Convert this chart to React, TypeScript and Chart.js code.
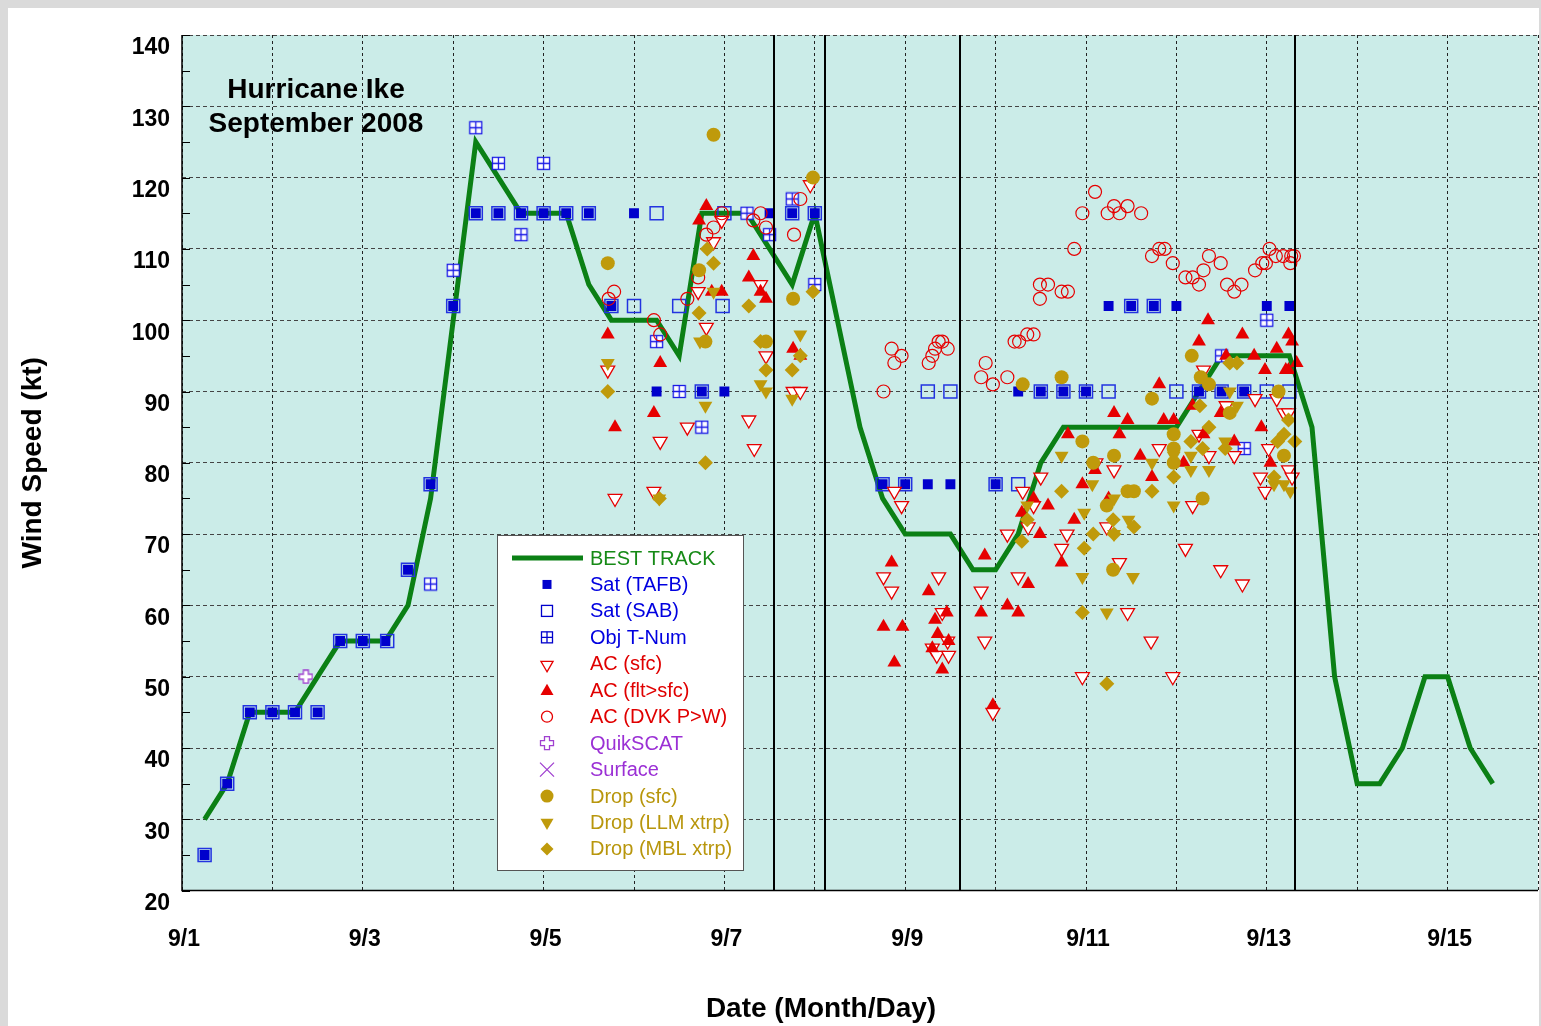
import React, { useEffect, useRef } from 'react';
import { Chart, registerables } from 'chart.js';

Chart.register(...registerables);

type P = [number, number];

const FONT = '"Liberation Sans", Arial, Helvetica, sans-serif';

// ---------------- data ----------------
const xTickDays = [1, 3, 5, 7, 9, 11, 13, 15];
const xTickLabels = ['9/1', '9/3', '9/5', '9/7', '9/9', '9/11', '9/13', '9/15'];
const titleLines = ['Hurricane Ike', 'September 2008'];
const xAxisTitle = 'Date (Month/Day)';
const yAxisTitle = 'Wind Speed (kt)';
const landfallDays = [7.55, 8.11, 9.61, 13.31];

const bestTrack: P[] = [
  [1.25, 30], [1.5, 35], [1.75, 45], [2, 45], [2.25, 45], [2.5, 50], [2.75, 55], [3, 55], [3.25, 55],
  [3.5, 60], [3.75, 75], [4, 100], [4.25, 125], [4.5, 120], [4.75, 115], [5, 115], [5.25, 115],
  [5.5, 105], [5.75, 100], [6, 100], [6.25, 100], [6.5, 95], [6.75, 115], [7, 115], [7.25, 115],
  [7.5, 110], [7.75, 105], [8, 115], [8.25, 100], [8.5, 85], [8.75, 75], [9, 70], [9.25, 70],
  [9.5, 70], [9.75, 65], [10, 65], [10.25, 70], [10.5, 80], [10.75, 85], [11, 85], [11.25, 85],
  [11.5, 85], [11.75, 85], [12, 85], [12.25, 90], [12.5, 95], [12.75, 95], [13, 95], [13.25, 95],
  [13.5, 85], [13.75, 50], [14, 35], [14.25, 35], [14.5, 40], [14.75, 50], [15, 50], [15.25, 40], [15.5, 35],
];

const satTafb: P[] = [
  [1.25, 25], [1.5, 35], [1.75, 45], [2, 45], [2.25, 45], [2.5, 45], [2.75, 55], [3, 55], [3.25, 55],
  [3.5, 65], [3.75, 77], [4, 102], [4.25, 115], [4.5, 115], [4.75, 115], [5, 115], [5.25, 115],
  [5.5, 115], [5.75, 102], [6, 115], [6.25, 90], [6.75, 90], [7, 90], [7.5, 115], [7.75, 115],
  [8, 115], [8.75, 77], [9, 77], [9.25, 77], [9.5, 77], [10, 77], [10.25, 90], [10.5, 90],
  [10.75, 90], [11, 90], [11.25, 102], [11.5, 102], [11.75, 102], [12, 102], [12.25, 90],
  [12.5, 90], [12.75, 90], [13, 102], [13.25, 102],
];

const satSab: P[] = [
  [1.25, 25], [1.5, 35], [1.75, 45], [2, 45], [2.25, 45], [2.5, 45], [2.75, 55], [3, 55], [3.27, 55],
  [3.5, 65], [3.75, 77], [4, 102], [4.25, 115], [4.5, 115], [4.75, 115], [5, 115], [5.25, 115],
  [5.5, 115], [5.75, 102], [6, 102], [6.25, 115], [6.5, 102], [6.75, 90], [6.98, 102], [7, 115],
  [7.75, 115], [8, 115], [8.75, 77], [9, 77], [9.25, 90], [9.5, 90], [10, 77], [10.25, 77],
  [10.5, 90], [10.75, 90], [11, 90], [11.25, 90], [11.5, 102], [11.75, 102], [12, 90], [12.25, 90],
  [12.5, 90], [12.75, 90], [13, 90], [13.25, 90],
];

const objTNum: P[] = [
  [3.75, 63], [4, 107], [4.25, 127], [4.5, 122], [4.75, 112], [5, 122], [6.25, 97], [6.5, 90],
  [6.75, 85], [7.25, 115], [7.5, 112], [7.75, 117], [8, 105], [12.5, 95], [12.75, 82], [13, 100],
];

const acSfc: P[] = [
  [7.95, 119], [6.97, 114], [6.88, 111], [6.71, 104], [7.40, 105], [6.80, 99], [5.71, 93], [7.46, 95],
  [7.76, 90], [7.84, 90], [7.27, 86], [6.59, 85], [6.29, 83], [7.33, 82], [6.22, 76], [5.79, 75],
  [8.88, 76], [8.96, 74], [10.50, 78], [10.30, 76], [10.36, 71], [10.42, 74],
  [8.76, 64], [8.85, 62], [9.37, 64], [9.41, 59], [9.47, 55], [9.30, 54], [9.35, 53], [9.48, 53],
  [9.84, 62], [9.88, 55], [10.25, 64], [9.97, 45], [10.13, 70],
  [11.31, 79], [11.81, 82], [11.11, 80], [10.73, 68], [10.79, 70], [11.23, 71], [11.37, 66],
  [11.46, 59], [11.72, 55], [10.96, 50],
  [12.30, 93], [12.87, 89], [12.55, 88], [13.11, 89], [12.25, 84], [12.36, 81], [12.64, 81],
  [13.02, 82], [13.19, 87], [13.24, 87], [12.93, 78], [12.98, 76], [13.24, 79], [13.28, 78],
  [12.10, 68], [12.49, 65], [12.73, 63], [11.96, 50], [12.18, 74],
];

const acFlt: P[] = [
  [6.80, 116], [6.72, 114], [7.32, 109], [7.27, 106], [7.40, 104], [7.46, 103], [6.97, 104], [6.86, 104],
  [5.71, 98], [6.29, 94], [6.22, 87], [5.79, 85], [7.76, 96], [7.84, 95],
  [8.85, 66], [9.26, 62], [8.76, 57], [8.97, 57], [9.33, 58], [9.46, 59], [9.36, 56], [9.48, 55],
  [9.30, 54], [8.88, 52], [9.41, 51], [9.88, 67], [9.84, 59], [10.13, 60], [10.25, 59], [10.36, 63],
  [10.49, 70], [9.97, 46], [10.58, 74], [10.42, 75], [10.29, 73],
  [12.35, 100], [11.31, 87], [11.46, 86], [11.37, 84], [10.80, 84], [11.60, 81], [11.73, 78],
  [11.10, 79], [10.96, 77], [11.81, 91], [11.25, 75], [10.87, 72], [10.73, 66],
  [12.73, 98], [12.25, 97], [12.55, 95], [12.86, 95], [13.11, 96], [13.24, 98], [13.28, 97],
  [12.98, 93], [13.21, 93], [13.24, 93], [12.18, 88], [12.49, 87], [11.86, 86], [11.97, 86],
  [12.30, 84], [12.94, 85], [12.64, 83], [13.04, 80], [12.08, 80], [13.33, 94],
];

const acDvk: P[] = [
  [7.84, 117], [6.97, 115], [6.88, 113], [6.80, 112], [7.40, 115], [7.32, 114], [7.46, 113],
  [7.77, 112], [6.71, 106], [6.59, 103], [5.78, 104], [5.72, 103], [6.22, 100], [6.29, 98],
  [8.85, 96], [8.96, 95], [8.88, 94], [9.37, 97], [9.41, 97], [9.33, 96], [9.47, 96], [9.30, 95],
  [9.26, 94], [8.76, 90], [9.89, 94], [9.84, 92], [9.97, 91], [10.13, 92], [10.21, 97], [10.26, 97],
  [10.35, 98], [10.42, 98],
  [11.10, 118], [10.96, 115], [11.24, 115], [11.31, 116], [11.37, 115], [11.46, 116], [11.61, 115],
  [10.87, 110], [11.73, 109], [11.81, 110], [11.87, 110], [11.96, 108], [12.10, 106], [12.18, 106],
  [12.25, 105], [12.30, 107], [12.36, 109], [12.49, 108], [12.56, 105], [12.64, 104], [12.72, 105],
  [12.87, 107], [12.95, 108], [12.99, 108], [13.03, 110], [13.10, 109], [13.18, 109], [13.26, 108],
  [13.27, 109], [13.30, 109],
  [10.49, 105], [10.58, 105], [10.49, 103], [10.73, 104], [10.80, 104],
];

const quikScat: P[] = [[2.37, 50]];
const surfaceObs: P[] = [];

const dropSfc: P[] = [
  [6.88, 126], [7.98, 120], [6.72, 107], [5.71, 108], [7.76, 103], [6.79, 97], [7.46, 97],
  [10.30, 91], [10.73, 92], [11.73, 89], [10.96, 83], [11.31, 81], [11.08, 80], [11.46, 76],
  [11.53, 76], [11.23, 74], [11.30, 65], [12.17, 95], [12.27, 92], [12.36, 91], [12.59, 87],
  [13.13, 90], [11.97, 84], [11.97, 82], [11.97, 80], [13.19, 81], [12.29, 75],
];

const dropLlm: P[] = [
  [6.88, 104], [5.71, 94], [6.79, 88], [7.84, 98], [7.40, 91], [7.46, 90], [7.75, 89], [6.73, 97],
  [6.28, 75], [10.35, 74], [10.73, 81], [11.07, 77], [11.31, 75], [11.73, 80], [10.98, 73],
  [11.47, 72], [11.31, 70], [10.96, 64], [11.52, 64], [11.23, 59], [12.59, 90], [12.67, 88],
  [12.16, 81], [12.54, 83], [12.36, 79], [12.16, 79], [13.19, 77], [13.26, 76], [13.08, 77],
  [11.97, 81], [11.97, 74],
];

const dropMbl: P[] = [
  [6.81, 110], [6.88, 108], [6.72, 101], [7.27, 102], [7.98, 104], [5.71, 90], [7.40, 97],
  [7.46, 93], [7.75, 93], [7.84, 95], [6.79, 80], [6.28, 75], [10.29, 69], [10.35, 72],
  [10.73, 76], [11.73, 76], [11.08, 70], [10.98, 68], [11.30, 72], [11.31, 70], [11.53, 71],
  [10.96, 59], [11.23, 49], [12.59, 94], [12.67, 94], [12.26, 88], [12.36, 85], [12.16, 83],
  [12.29, 82], [12.54, 82], [13.19, 84], [13.24, 86], [11.97, 78], [13.12, 83], [13.08, 78], [13.31, 83],
];

// ---------------- styles ----------------
const GREEN = '#0b8015';
const BLUE = '#0000cc';
const SAB_BLUE = '#2233e0';
const RED = '#e60000';
const PURPLE = '#a040d0';
const GOLD = '#bf9a0b';
const PLOT_BG = '#cbece8';

const legendItems = [
  { label: 'BEST TRACK', color: '#168a16', kind: 'line' },
  { label: 'Sat (TAFB)', color: '#0000e0', kind: 'tafb' },
  { label: 'Sat (SAB)', color: '#0000e0', kind: 'sab' },
  { label: 'Obj T-Num', color: '#0000e0', kind: 'obj' },
  { label: 'AC (sfc)', color: '#e00000', kind: 'acsfc' },
  { label: 'AC (flt>sfc)', color: '#e00000', kind: 'flt' },
  { label: 'AC (DVK P>W)', color: '#e00000', kind: 'dvk' },
  { label: 'QuikSCAT', color: '#9b30d5', kind: 'quik' },
  { label: 'Surface', color: '#9b30d5', kind: 'surf' },
  { label: 'Drop (sfc)', color: '#b8960c', kind: 'dsfc' },
  { label: 'Drop (LLM xtrp)', color: '#b8960c', kind: 'llm' },
  { label: 'Drop (MBL xtrp)', color: '#b8960c', kind: 'mbl' },
];

const toXY = (arr: P[]) => arr.map(([x, y]) => ({ x, y }));

function makeObjIcon(): HTMLCanvasElement {
  const c = document.createElement('canvas');
  c.width = 15;
  c.height = 15;
  const g = c.getContext('2d')!;
  g.fillStyle = '#ffffff';
  g.fillRect(1, 1, 13, 13);
  g.strokeStyle = '#1a1ae6';
  g.lineWidth = 1.3;
  g.strokeRect(1.5, 1.5, 12, 12);
  g.beginPath();
  g.moveTo(7.5, 1.5);
  g.lineTo(7.5, 13.5);
  g.moveTo(1.5, 7.5);
  g.lineTo(13.5, 7.5);
  g.stroke();
  return c;
}

function plusPath(g: CanvasRenderingContext2D, c: number, a: number, e: number) {
  const pts = [
    [c - a, c - e], [c + a, c - e], [c + a, c - a], [c + e, c - a], [c + e, c + a], [c + a, c + a],
    [c + a, c + e], [c - a, c + e], [c - a, c + a], [c - e, c + a], [c - e, c - a], [c - a, c - a],
  ];
  g.beginPath();
  pts.forEach(([px, py], i) => (i ? g.lineTo(px, py) : g.moveTo(px, py)));
  g.closePath();
}

function makePlusIcon(): HTMLCanvasElement {
  const c = document.createElement('canvas');
  c.width = 15;
  c.height = 15;
  const g = c.getContext('2d')!;
  plusPath(g, 7.5, 2.5, 6.5);
  g.fillStyle = '#ffffff';
  g.fill();
  g.strokeStyle = PURPLE;
  g.lineWidth = 1.3;
  g.stroke();
  return c;
}

function tri(ctx: CanvasRenderingContext2D, x: number, y: number, r: number, down: boolean) {
  const s = down ? -1 : 1;
  ctx.beginPath();
  ctx.moveTo(x, y - s * r);
  ctx.lineTo(x + 0.866 * r, y + s * r * 0.5);
  ctx.lineTo(x - 0.866 * r, y + s * r * 0.5);
  ctx.closePath();
}

function drawLegendSymbol(ctx: CanvasRenderingContext2D, kind: string, x: number, y: number) {
  ctx.save();
  ctx.lineWidth = 1.3;
  switch (kind) {
    case 'line':
      ctx.strokeStyle = GREEN;
      ctx.lineWidth = 5;
      ctx.beginPath();
      ctx.moveTo(x - 35, y);
      ctx.lineTo(x + 36, y);
      ctx.stroke();
      break;
    case 'tafb':
      ctx.fillStyle = BLUE;
      ctx.fillRect(x - 4.5, y - 4.5, 9, 9);
      break;
    case 'sab':
      ctx.strokeStyle = BLUE;
      ctx.strokeRect(x - 5.5, y - 5.5, 11, 11);
      break;
    case 'obj':
      ctx.strokeStyle = BLUE;
      ctx.strokeRect(x - 5.5, y - 5.5, 11, 11);
      ctx.beginPath();
      ctx.moveTo(x, y - 5.5);
      ctx.lineTo(x, y + 5.5);
      ctx.moveTo(x - 5.5, y);
      ctx.lineTo(x + 5.5, y);
      ctx.stroke();
      break;
    case 'acsfc':
      tri(ctx, x, y + 1, 7, true);
      ctx.fillStyle = '#fff';
      ctx.fill();
      ctx.strokeStyle = RED;
      ctx.stroke();
      break;
    case 'flt':
      tri(ctx, x, y + 1, 7.5, false);
      ctx.fillStyle = RED;
      ctx.fill();
      break;
    case 'dvk':
      ctx.beginPath();
      ctx.arc(x, y, 5.5, 0, Math.PI * 2);
      ctx.strokeStyle = RED;
      ctx.stroke();
      break;
    case 'quik':
      ctx.translate(x - 7.5, y - 7.5);
      plusPath(ctx, 7.5, 2.5, 6.5);
      ctx.fillStyle = '#fff';
      ctx.fill();
      ctx.strokeStyle = PURPLE;
      ctx.stroke();
      break;
    case 'surf':
      ctx.strokeStyle = PURPLE;
      ctx.beginPath();
      ctx.moveTo(x - 7, y - 7);
      ctx.lineTo(x + 7, y + 7);
      ctx.moveTo(x + 7, y - 7);
      ctx.lineTo(x - 7, y + 7);
      ctx.stroke();
      break;
    case 'dsfc':
      ctx.beginPath();
      ctx.arc(x, y, 6.5, 0, Math.PI * 2);
      ctx.fillStyle = GOLD;
      ctx.fill();
      break;
    case 'llm':
      tri(ctx, x, y, 7.5, true);
      ctx.fillStyle = GOLD;
      ctx.fill();
      break;
    case 'mbl':
      ctx.beginPath();
      ctx.moveTo(x - 6.5, y);
      ctx.lineTo(x, y - 6.5);
      ctx.lineTo(x + 6.5, y);
      ctx.lineTo(x, y + 6.5);
      ctx.closePath();
      ctx.fillStyle = GOLD;
      ctx.fill();
      break;
  }
  ctx.restore();
}

const decorPlugin = {
  id: 'ikeDecor',
  beforeDraw(chart: any) {
    const { ctx, chartArea: a, width, height } = chart;
    ctx.save();
    ctx.fillStyle = '#ffffff';
    ctx.fillRect(0, 0, width, height);
    ctx.fillStyle = PLOT_BG;
    ctx.fillRect(a.left, a.top, a.right - a.left, a.bottom - a.top);
    ctx.fillStyle = '#000';
    ctx.font = `bold 28px ${FONT}`;
    ctx.textAlign = 'center';
    ctx.textBaseline = 'middle';
    ctx.fillText(titleLines[0], a.left + 134, a.top + 55);
    ctx.fillText(titleLines[1], a.left + 134, a.top + 89);
    ctx.restore();
  },
  afterDatasetsDraw(chart: any) {
    const { ctx, chartArea: a, scales } = chart;
    const xs = scales.x;
    const ys = scales.y;
    ctx.save();
    // landfall lines
    ctx.strokeStyle = '#000';
    ctx.lineWidth = 2;
    landfallDays.forEach((d) => {
      const px = Math.round(xs.getPixelForValue(d));
      ctx.beginPath();
      ctx.moveTo(px, a.top);
      ctx.lineTo(px, a.bottom);
      ctx.stroke();
    });
    // axis lines
    ctx.lineWidth = 1.5;
    ctx.beginPath();
    ctx.moveTo(a.left, a.top);
    ctx.lineTo(a.left, a.bottom);
    ctx.lineTo(a.right, a.bottom);
    ctx.stroke();
    // inner minor ticks
    ctx.lineWidth = 1;
    for (let v = ys.min; v <= ys.max; v += 5) {
      const py = Math.round(ys.getPixelForValue(v)) + 0.5;
      ctx.beginPath();
      ctx.moveTo(a.left, py);
      ctx.lineTo(a.left + 8, py);
      ctx.stroke();
    }
    ctx.restore();
  },
  afterDraw(chart: any) {
    const { ctx, chartArea: a } = chart;
    // x axis title (offset left of axis centre, as in the original)
    ctx.save();
    ctx.fillStyle = '#000';
    ctx.font = `bold 28px ${FONT}`;
    ctx.textAlign = 'center';
    ctx.textBaseline = 'middle';
    ctx.fillText(xAxisTitle, a.left + 639, a.bottom + 119);
    ctx.restore();

    const bx = a.left + 315;
    const by = a.top + 500;
    const bw = 246;
    const bh = 335;
    ctx.save();
    ctx.fillStyle = '#ffffff';
    ctx.fillRect(bx, by, bw, bh);
    ctx.strokeStyle = '#555';
    ctx.lineWidth = 1;
    ctx.strokeRect(bx + 0.5, by + 0.5, bw, bh);
    ctx.font = `20px ${FONT}`;
    ctx.textAlign = 'left';
    ctx.textBaseline = 'middle';
    legendItems.forEach((it, i) => {
      const cy = by + 23 + i * 26.45;
      drawLegendSymbol(ctx, it.kind, bx + 50, cy);
      ctx.fillStyle = it.color;
      ctx.fillText(it.label, bx + 93, cy + 1);
    });
    ctx.restore();
  },
};

export default function App() {
  const ref = useRef<HTMLCanvasElement>(null);

  useEffect(() => {
    document.body.style.background = '#dadada';
    const canvas = ref.current!;
    const objIcon = makeObjIcon();
    const plusIcon = makePlusIcon();
    const tickFont = { family: FONT, size: 23, weight: 'bold' as const };
    const titleFont = { family: FONT, size: 28, weight: 'bold' as const };

    const chart = new Chart(canvas, {
      type: 'scatter',
      data: {
        datasets: [
          {
            label: 'BEST TRACK', data: toXY(bestTrack), showLine: true, borderColor: GREEN,
            backgroundColor: GREEN, borderWidth: 5, pointRadius: 0, tension: 0, order: 20,
          },
          {
            label: 'Sat (TAFB)', data: toXY(satTafb), pointStyle: 'rect', pointRadius: 7,
            backgroundColor: BLUE, borderColor: BLUE, borderWidth: 0, order: 12,
          },
          {
            label: 'Sat (SAB)', data: toXY(satSab), pointStyle: 'rect', pointRadius: 9.2,
            backgroundColor: 'rgba(0,0,0,0)', borderColor: SAB_BLUE, borderWidth: 1.5, order: 11,
          },
          {
            label: 'Obj T-Num', data: toXY(objTNum), pointStyle: objIcon as any, pointRadius: 7, order: 10,
          },
          {
            label: 'AC (sfc)', data: toXY(acSfc), pointStyle: 'triangle', rotation: 180, pointRadius: 8,
            backgroundColor: '#ffffff', borderColor: RED, borderWidth: 1.3, order: 9,
          },
          {
            label: 'AC (flt>sfc)', data: toXY(acFlt), pointStyle: 'triangle', pointRadius: 8,
            backgroundColor: RED, borderColor: RED, borderWidth: 0, order: 8,
          },
          {
            label: 'AC (DVK P>W)', data: toXY(acDvk), pointStyle: 'circle', pointRadius: 6.5,
            backgroundColor: 'rgba(0,0,0,0)', borderColor: RED, borderWidth: 1.2, order: 7,
          },
          {
            label: 'QuikSCAT', data: toXY(quikScat), pointStyle: plusIcon as any, pointRadius: 7, order: 6,
          },
          {
            label: 'Surface', data: toXY(surfaceObs), pointStyle: 'crossRot', pointRadius: 7,
            borderColor: PURPLE, borderWidth: 1.3, order: 5,
          },
          {
            label: 'Drop (sfc)', data: toXY(dropSfc), pointStyle: 'circle', pointRadius: 7,
            backgroundColor: GOLD, borderColor: GOLD, borderWidth: 0, order: 4,
          },
          {
            label: 'Drop (LLM xtrp)', data: toXY(dropLlm), pointStyle: 'triangle', rotation: 180,
            pointRadius: 8, backgroundColor: GOLD, borderColor: GOLD, borderWidth: 0, order: 3,
          },
          {
            label: 'Drop (MBL xtrp)', data: toXY(dropMbl), pointStyle: 'rectRot', pointRadius: 7.5,
            backgroundColor: GOLD, borderColor: GOLD, borderWidth: 0, order: 2,
          },
        ] as any,
      },
      options: {
        responsive: false,
        animation: false,
        devicePixelRatio: 1,
        events: [],
        layout: { autoPadding: false, padding: { left: 0, right: 1, top: 27, bottom: 0 } },
        plugins: { legend: { display: false }, tooltip: { enabled: false } },
        scales: {
          x: {
            type: 'linear', min: 1, max: 16,
            afterFit: (s: any) => {
              s.height = 135.4;
              s.paddingLeft = 0;
              s.paddingRight = 0;
            },
            ticks: {
              stepSize: 1, autoSkip: false, maxRotation: 0, minRotation: 0, padding: 35,
              font: tickFont, color: '#000', labelOffset: 2,
              callback: (v: any) => {
                const i = xTickDays.indexOf(Number(v));
                return i >= 0 ? xTickLabels[i] : '';
              },
            },
            grid: { color: '#222', lineWidth: 1, drawTicks: false },
            border: { display: false, dash: [3, 3] },
            title: { display: false },
          },
          y: {
            type: 'linear', min: 20, max: 140,
            afterFit: (s: any) => { s.width = 174; },
            ticks: { stepSize: 10, padding: 12, labelOffset: 13, font: tickFont, color: '#000' },
            grid: { color: '#444', lineWidth: 1, drawTicks: false },
            border: { display: false, dash: [4, 3] },
            title: {
              display: true, text: yAxisTitle, font: titleFont, color: '#000',
              padding: { top: 8, bottom: 0 },
            },
          },
        },
      } as any,
      plugins: [decorPlugin],
    });
    return () => chart.destroy();
  }, []);

  return (
    <div style={{ position: 'fixed', left: 8, top: 8, width: 1531, height: 1018, background: '#fff' }}>
      <canvas ref={ref} width={1531} height={1018} style={{ display: 'block', width: 1531, height: 1018 }} />
    </div>
  );
}
